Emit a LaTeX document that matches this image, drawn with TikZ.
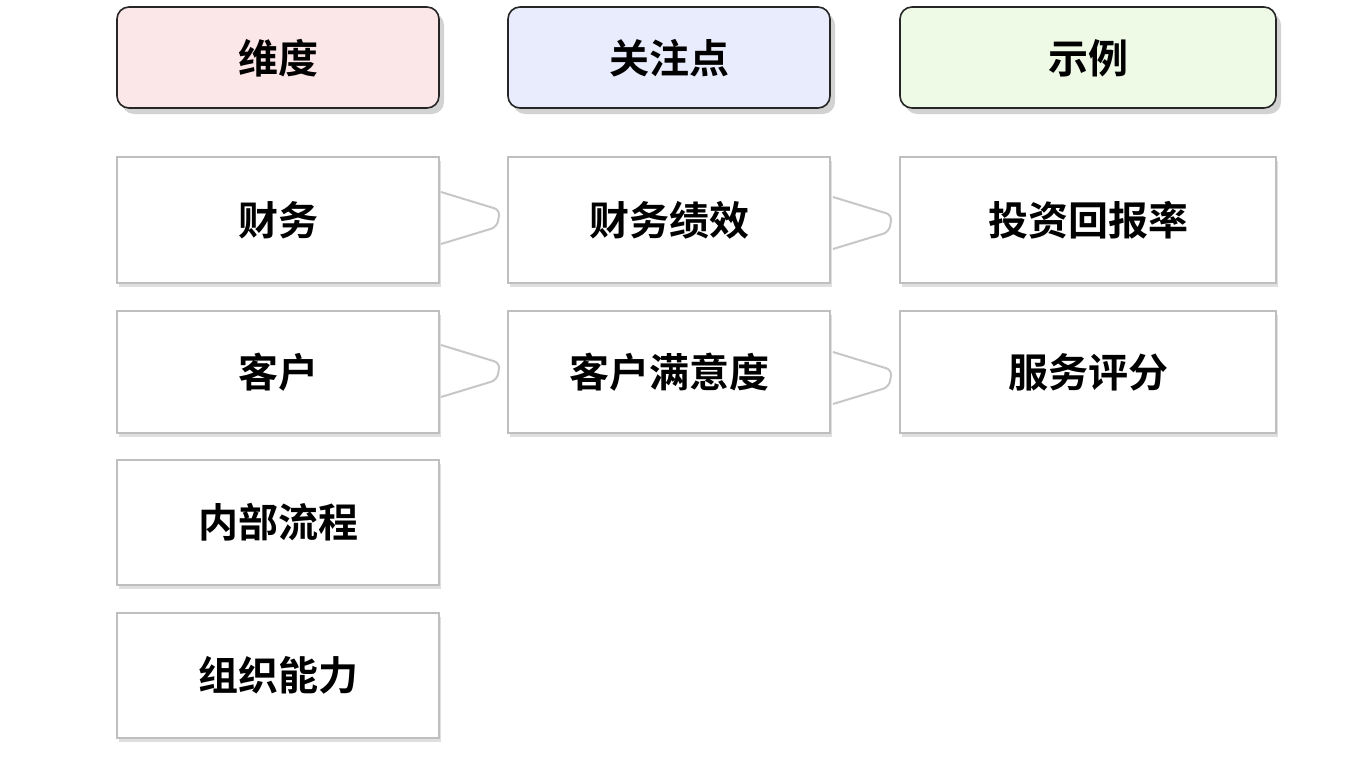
\documentclass[tikz,border=0pt]{standalone}
\usepackage{fontspec}
\setmainfont{Noto Sans CJK SC}[BoldFont={Noto Sans CJK SC Bold}]
\usetikzlibrary{shadows,calc}
\begin{document}
\begin{tikzpicture}[x=1pt,y=-1pt,
 hdr/.style={draw=black!85,line width=1.6pt,rounded corners=12pt,drop shadow={shadow xshift=5pt,shadow yshift=-6pt,opacity=0.35}},
 cell/.style={draw=black!25,line width=1.2pt,fill=white,drop shadow={shadow xshift=2pt,shadow yshift=-4pt,opacity=0.25}},
 lab/.style={font=\bfseries\fontsize{40}{44}\selectfont,text=black},
 con/.style={draw=black!22,line width=2pt,rounded corners=6pt}]
\useasboundingbox (0,0) rectangle (1370,768);
\fill[white] (0,0) rectangle (1370,768);
\draw[hdr,fill={rgb,255:red,252;green,231;blue,232}] (117,7) rectangle (439,108);
\draw[hdr,fill={rgb,255:red,232;green,236;blue,252}] (508,7) rectangle (830,108);
\draw[hdr,fill={rgb,255:red,238;green,250;blue,230}] (900,7) rectangle (1276,108);
\node[lab] (h1) at (278,58) {维度};
\node[lab] (h2) at (669,58) {关注点};
\node[lab] (h3) at (1088,58) {示例};
% cells
\draw[cell] (117,157) rectangle (439,283); \node[lab] (a1) at (278,220) {财务};
\draw[cell] (117,311) rectangle (439,433); \node[lab] (a2) at (278,372) {客户};
\draw[cell] (117,460) rectangle (439,585); \node[lab] (a3) at (278,522) {内部流程};
\draw[cell] (117,613) rectangle (439,738); \node[lab] (a4) at (278,675) {组织能力};
\draw[cell] (508,157) rectangle (830,283); \node[lab] (b1) at (669,220) {财务绩效};
\draw[cell] (508,311) rectangle (830,433); \node[lab] (b2) at (669,372) {客户满意度};
\draw[cell] (900,157) rectangle (1276,283); \node[lab] (c1) at (1088,220) {投资回报率};
\draw[cell] (900,311) rectangle (1276,433); \node[lab] (c2) at (1088,372) {服务评分};
% connectors
\foreach \x/\y in {441/192,441/345,833/197,833/352}{
 \draw[con] (\x,\y) -- (\x+59,\y+18) -- (\x+56,\y+35) -- (\x,\y+52);
}
\end{tikzpicture}
\end{document}
